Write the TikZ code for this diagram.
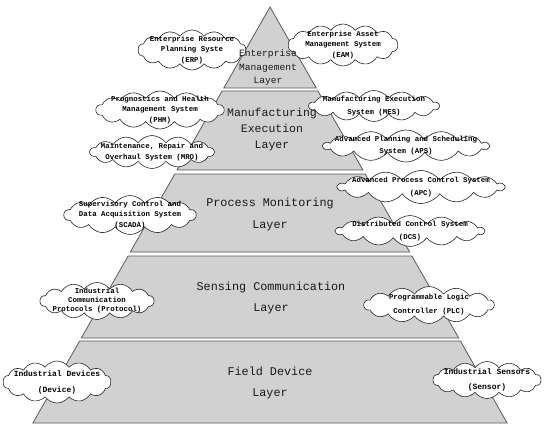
\documentclass[tikz,border=0pt]{standalone}
\usepackage{fontspec}
\newfontfamily\labfont{Liberation Mono}
\usetikzlibrary{shapes.symbols}
\tikzset{
  layer/.style={fill=black!18, draw=black!65, line width=0.8pt},
  cloudbox/.style={cloud, cloud puffs=14, cloud puff arc=110, cloud ignores aspect,
    draw=black!85, fill=white, line width=0.6pt, inner sep=0pt},
  cloudtext/.style={align=center, inner sep=0pt, font=\labfont\bfseries\fontsize{7.4}{10.5}\selectfont},
  layertext/.style={align=center, inner sep=0pt, text=black!90}
}
\begin{document}
\begin{tikzpicture}[x=1pt,y=-1pt]
\useasboundingbox (0,0) rectangle (550,432);
% layers
\path[layer] (270,7) -- (316.2,88) -- (223.8,88) -- cycle;
\path[layer] (222.1,91) -- (317.9,91) -- (362.9,170) -- (177.1,170) -- cycle;
\path[layer] (174.8,174) -- (365.2,174) -- (409.7,252) -- (130.3,252) -- cycle;
\path[layer] (128.1,256) -- (411.9,256) -- (458.7,338) -- (81.3,338) -- cycle;
\path[layer] (79.6,341) -- (460.4,341) -- (507.1,423) -- (32.9,423) -- cycle;
% clouds
\node[cloudbox, minimum width=108, minimum height=40] (erpc) at (192,50) {};
\node[cloudbox, minimum width=110, minimum height=42] (eamc) at (343,45) {};
\node[cloudbox, minimum width=128, minimum height=38] (phmc) at (160,110) {};
\node[cloudbox, minimum width=124, minimum height=33] (mroc) at (152,152) {};
\node[cloudbox, minimum width=130, minimum height=31] (mesc) at (374,106) {};
\node[cloudbox, minimum width=165, minimum height=32] (apsc) at (406,146) {};
\node[cloudbox, minimum width=132, minimum height=39] (scadac) at (130,215) {};
\node[cloudbox, minimum width=166, minimum height=33] (apcc) at (421,187) {};
\node[cloudbox, minimum width=148, minimum height=31] (dcsc) at (410,231) {};
\node[cloudbox, minimum width=114, minimum height=37] (protc) at (97,301) {};
\node[cloudbox, minimum width=108, minimum height=42] (devc) at (57,382) {};
\node[cloudbox, minimum width=130, minimum height=37] (plcc) at (429,305) {};
\node[cloudbox, minimum width=108, minimum height=37] (senc) at (487,380) {};
% cloud texts
\node[cloudtext] (erp) at (erpc) {Enterprise Resource\\Planning Syste\\(ERP)};
\node[cloudtext] (eam) at (eamc) {Enterprise Asset\\Management System\\(EAM)};
\node[cloudtext] (phm) at (phmc) {Prognostics and Health\\Management System\\(PHM)};
\node[cloudtext] (mro) at (mroc) {Maintenance, Repair and\\Overhaul System (MRO)};
\node[cloudtext, font=\labfont\bfseries\fontsize{7.4}{13}\selectfont] (mes) at (mesc) {Manufacturing Execution\\System (MES)};
\node[cloudtext, font=\labfont\bfseries\fontsize{7.4}{12}\selectfont] (aps) at (apsc) {Advanced Planning and Scheduling\\System (APS)};
\node[cloudtext] (scada) at (scadac) {Supervisory Control and\\Data Acquisition System\\(SCADA)};
\node[cloudtext, font=\labfont\bfseries\fontsize{7.4}{13}\selectfont] (apc) at (apcc) {Advanced Process Control System\\(APC)};
\node[cloudtext, font=\labfont\bfseries\fontsize{7.4}{13}\selectfont] (dcs) at (dcsc) {Distributed Control System\\(DCS)};
\node[cloudtext, font=\labfont\bfseries\fontsize{7.4}{9}\selectfont] (prot) at (protc) {Industrial\\Communication\\Protocols (Protocol)};
\node[cloudtext, font=\labfont\bfseries\fontsize{8}{16}\selectfont] (dev) at (devc) {Industrial Devices\\(Device)};
\node[cloudtext, font=\labfont\bfseries\fontsize{7.4}{14}\selectfont] (plc) at (plcc) {Programmable Logic\\Controller (PLC)};
\node[cloudtext, font=\labfont\bfseries\fontsize{8}{15}\selectfont] (sen) at (senc) {Industrial Sensors\\(Sensor)};
% layer labels
\node[layertext, font=\labfont\fontsize{9.6}{13.5}\selectfont] (l1) at (268,68) {Enterprise\\Management\\Layer};
\node[layertext, font=\labfont\fontsize{11.5}{16}\selectfont] (l2) at (272,130) {Manufacturing\\Execution\\Layer};
\node[layertext, font=\labfont\fontsize{11.8}{22}\selectfont] (l3) at (270,214) {Process Monitoring\\Layer};
\node[layertext, font=\labfont\fontsize{11.8}{21}\selectfont] (l4) at (271,298) {Sensing Communication\\Layer};
\node[layertext, font=\labfont\fontsize{11.8}{21}\selectfont] (l5) at (270,383) {Field Device\\Layer};
\end{tikzpicture}
\end{document}
